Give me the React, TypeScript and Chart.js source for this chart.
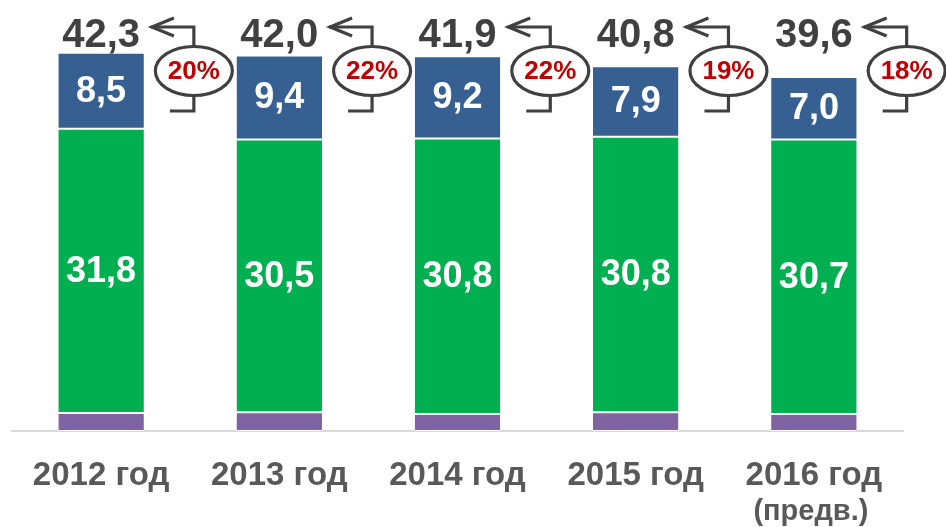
import React, { useEffect, useRef } from "react";
import { Chart, registerables } from "chart.js";

Chart.register(...registerables);

const categories = ["2012 год", "2013 год", "2014 год", "2015 год", "2016 год"];
const categoryNotes = ["", "", "", "", "(предв.)"];
const purpleValues = [2.0, 2.1, 1.9, 2.1, 1.9];
const greenValues = [31.8, 30.5, 30.8, 30.8, 30.7];
const blueValues = [8.5, 9.4, 9.2, 7.9, 7.0];
const totalValues = [42.3, 42.0, 41.9, 40.8, 39.6];
const shareLabels = ["20%", "22%", "22%", "19%", "18%"];

const FONT = "'Liberation Sans', Arial, sans-serif";
const fmt = (v: number) => v.toFixed(1).replace(".", ",");

const overlayPlugin = {
  id: "overlay",
  afterDatasetsDraw(chart: any) {
    const ctx = chart.ctx as CanvasRenderingContext2D;
    ctx.save();
    // values inside segments
    [1, 2].forEach((di) => {
      const meta = chart.getDatasetMeta(di);
      meta.data.forEach((el: any, i: number) => {
        const { x, y, base } = el.getProps(["x", "y", "base"], true);
        ctx.fillStyle = "#ffffff";
        ctx.font = `bold 36px ${FONT}`;
        ctx.textAlign = "center";
        ctx.textBaseline = "middle";
        ctx.fillText(fmt(chart.data.datasets[di].data[i]), x, (y + base) / 2 + 1);
      });
    });
    // totals and share annotations
    const topMeta = chart.getDatasetMeta(2);
    topMeta.data.forEach((el: any, i: number) => {
      const { x, y, width } = el.getProps(["x", "y", "width"], true);
      ctx.fillStyle = "#404040";
      ctx.font = `bold 40px ${FONT}`;
      ctx.textAlign = "center";
      ctx.textBaseline = "alphabetic";
      ctx.fillText(fmt(totalValues[i]), x, Math.min(y - 6, 47));

      const right = x + width / 2;
      const cx = right + 50;
      const cy = 71;
      const ay = 27;
      const tx = right + 7;
      ctx.strokeStyle = "#404040";
      ctx.lineWidth = 3.2;
      ctx.lineJoin = "miter";
      ctx.lineCap = "butt";
      ctx.beginPath();
      ctx.moveTo(tx, ay);
      ctx.lineTo(cx, ay);
      ctx.lineTo(cx, cy - 24);
      ctx.stroke();
      ctx.beginPath();
      ctx.moveTo(tx + 23, ay - 9);
      ctx.lineTo(tx + 1, ay);
      ctx.lineTo(tx + 23, ay + 9);
      ctx.stroke();
      ctx.beginPath();
      ctx.ellipse(cx, cy, 38.5, 24.5, 0, 0, Math.PI * 2);
      ctx.stroke();
      ctx.beginPath();
      ctx.moveTo(cx, cy + 24);
      ctx.lineTo(cx, cy + 40);
      ctx.lineTo(cx - 24, cy + 40);
      ctx.stroke();
      ctx.fillStyle = "#C00000";
      ctx.font = `bold 26px ${FONT}`;
      ctx.textBaseline = "middle";
      ctx.fillText(shareLabels[i], cx, cy + 1);
    });
    // category notes
    const xs = chart.scales.x;
    categoryNotes.forEach((note, i) => {
      if (!note) return;
      ctx.fillStyle = "#595959";
      ctx.font = `bold 29px ${FONT}`;
      ctx.textAlign = "center";
      ctx.textBaseline = "middle";
      ctx.fillText(note, xs.getPixelForTick(i) - 3, 512);
    });
    ctx.restore();
  },
};

export default function App() {
  const canvasRef = useRef<HTMLCanvasElement | null>(null);

  useEffect(() => {
    if (!canvasRef.current) return;
    const border = { top: 1, bottom: 1, left: 0, right: 0 };
    const chart = new Chart(canvasRef.current, {
      type: "bar",
      data: {
        labels: categories,
        datasets: [
          { label: "a", data: purpleValues, backgroundColor: "#8064A2", borderColor: "#ffffff", borderWidth: border, borderSkipped: false },
          { label: "b", data: greenValues, backgroundColor: "#00B050", borderColor: "#ffffff", borderWidth: border, borderSkipped: false },
          { label: "c", data: blueValues, backgroundColor: "#376092", borderColor: "#ffffff", borderWidth: border, borderSkipped: false },
        ],
      },
      options: {
        responsive: false,
        animation: false,
        events: [],
        layout: { padding: { left: 12, right: 43, top: 0, bottom: 0 } },
        datasets: { bar: { barPercentage: 0.48, categoryPercentage: 1 } },
        plugins: { legend: { display: false }, tooltip: { enabled: false } },
        scales: {
          x: {
            stacked: true,
            grid: { display: false },
            border: { display: true, color: "#D9D9D9", width: 2 },
            ticks: {
              color: "#595959",
              font: { family: FONT, size: 33, weight: "bold" },
              padding: 17,
              maxRotation: 0,
              autoSkip: false,
            },
            afterFit: (scale: any) => {
              scale.height = 96;
            },
          },
          y: { stacked: true, display: false, min: 0, max: 48.2 },
        },
      },
      plugins: [overlayPlugin],
    } as any);
    return () => chart.destroy();
  }, []);

  return (
    <div style={{ position: "fixed", left: 0, top: 0, width: 946, height: 527, background: "#fff" }}>
      <canvas ref={canvasRef} width={946} height={527} style={{ width: 946, height: 527, display: "block" }} />
    </div>
  );
}
